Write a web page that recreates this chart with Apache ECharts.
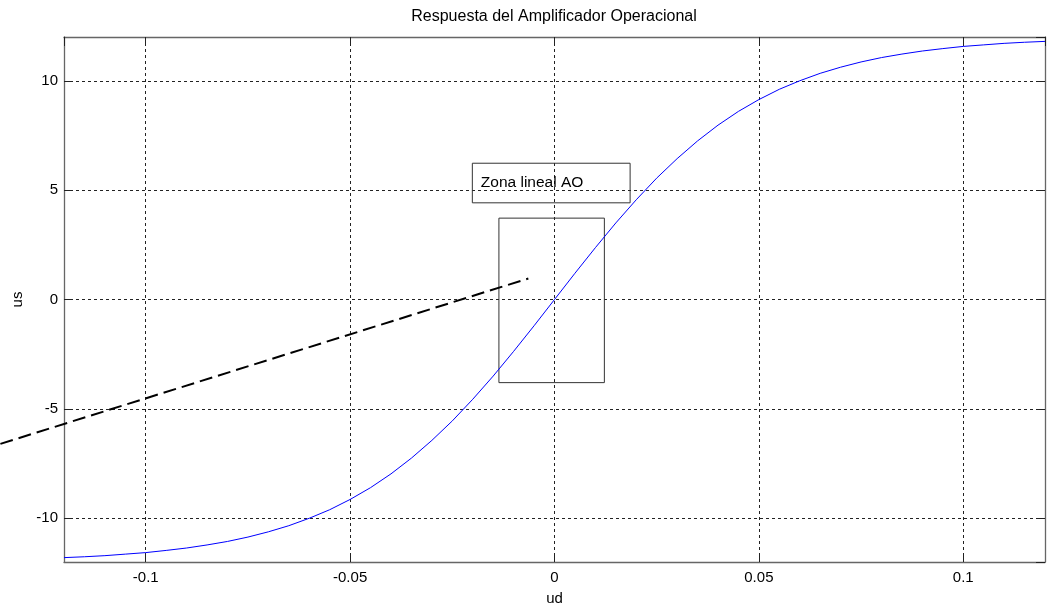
<!DOCTYPE html>
<html>
<head>
<meta charset="utf-8">
<script src="https://cdn.jsdelivr.net/npm/echarts@6/dist/echarts.min.js"></script>
<style>html,body{margin:0;padding:0;background:#fff}#c{width:1047px;height:605px}</style>
</head>
<body>
<div id="c"></div>
<script>
var ud = [-0.12,-0.115,-0.11,-0.105,-0.10,-0.095,-0.09,-0.085,-0.08,-0.075,-0.07,-0.065,-0.06,-0.055,-0.05,-0.045,-0.04,-0.035,-0.03,-0.025,-0.02,-0.015,-0.01,-0.005,0,
          0.005,0.01,0.015,0.02,0.025,0.03,0.035,0.04,0.045,0.05,0.055,0.06,0.065,0.07,0.075,0.08,0.085,0.09,0.095,0.10,0.105,0.11,0.115,0.12];
var us = [-11.80,-11.76,-11.71,-11.64,-11.57,-11.47,-11.36,-11.22,-11.06,-10.86,-10.62,-10.34,-10.00,-9.61,-9.14,-8.60,-7.97,-7.25,-6.44,-5.55,-4.56,-3.50,-2.37,-1.20,0,
          1.20,2.37,3.50,4.56,5.55,6.44,7.25,7.97,8.60,9.14,9.61,10.00,10.34,10.62,10.86,11.06,11.22,11.36,11.47,11.57,11.64,11.71,11.76,11.80];
var arrowX = [-0.14, -0.0064];
var arrowY = [-6.86, 0.96];
var linBox = [[-0.0136, 3.72], [0.0122, -3.80]];
var textBox = [[-0.0201, 6.23], [0.0185, 4.42]];
var textBoxLabel = 'Zona lineal AO';
var titleText = 'Respuesta del Amplificador Operacional';
var xName = 'ud', yName = 'us';
var xMin = -0.12, xMax = 0.12, yMin = -12, yMax = 12;

var FONT = 'Liberation Sans, Arial, sans-serif';
var curve = ud.map(function (x, i) { return [x, us[i]]; });

var gridLine = { show: true, lineStyle: { color: '#222', width: 1, type: [3, 3] } };
var boxLine = { show: true, onZero: false, lineStyle: { color: '#666', width: 1.3 } };
var tick = { show: true, inside: true, length: 9, lineStyle: { color: '#222', width: 1 } };

var chart = echarts.init(document.getElementById('c'), null, { renderer: 'canvas' });
chart.setOption({
  animation: false,
  backgroundColor: '#fff',
  textStyle: { fontFamily: FONT },
  title: {
    text: titleText, left: 554, textAlign: 'center', top: 9, padding: 0,
    textStyle: { fontSize: 16, fontWeight: 'normal', color: '#000', fontFamily: FONT }
  },
  grid: { left: 64, right: 2, top: 37, bottom: 43, containLabel: false, outerBoundsMode: 'none' },
  xAxis: [{
    type: 'value', min: xMin, max: xMax, splitNumber: 5, position: 'bottom',
    name: xName, nameLocation: 'middle', nameGap: 29,
    nameTextStyle: { fontSize: 15, color: '#000', fontFamily: FONT },
    axisLine: boxLine, axisTick: tick, splitLine: gridLine,
    axisLabel: { show: true, showMinLabel: false, showMaxLabel: false, margin: 8, fontSize: 15, color: '#000', fontFamily: FONT }
  }, {
    type: 'value', min: xMin, max: xMax, splitNumber: 5, position: 'top',
    axisLine: boxLine, axisTick: tick, splitLine: { show: false }, axisLabel: { show: false }
  }],
  yAxis: [{
    type: 'value', min: yMin, max: yMax, splitNumber: 5, position: 'left',
    name: yName, nameLocation: 'middle', nameGap: 38,
    nameTextStyle: { fontSize: 15, color: '#000', fontFamily: FONT },
    axisLine: boxLine, axisTick: tick, splitLine: gridLine,
    axisLabel: { show: true, showMinLabel: false, showMaxLabel: false, margin: 6, fontSize: 15, color: '#000', fontFamily: FONT }
  }, {
    type: 'value', min: yMin, max: yMax, splitNumber: 5, position: 'right',
    axisLine: boxLine, axisTick: tick, splitLine: { show: false }, axisLabel: { show: false }
  }],
  series: [{
    type: 'line', data: curve, showSymbol: false, smooth: false,
    lineStyle: { color: '#0000ff', width: 1 }, z: 5,
    markArea: {
      silent: true,
      itemStyle: { color: 'rgba(0,0,0,0)', borderColor: '#333', borderWidth: 1 },
      label: { show: false },
      data: [
        [{ coord: linBox[0] }, { coord: linBox[1] }],
        [{ coord: textBox[0], name: textBoxLabel,
           label: { show: true, position: 'insideLeft', distance: 9, fontSize: 15.5, color: '#000', fontFamily: FONT } },
         { coord: textBox[1] }]
      ]
    }
  }, {
    type: 'custom', clip: false, z: 6, silent: true,
    data: [[arrowX[0], arrowY[0], arrowX[1], arrowY[1]]],
    renderItem: function (params, api) {
      var p1 = api.coord([api.value(0), api.value(1)]);
      var p2 = api.coord([api.value(2), api.value(3)]);
      return {
        type: 'line',
        shape: { x1: p1[0], y1: p1[1], x2: p2[0], y2: p2[1] },
        style: { stroke: '#000', lineWidth: 2, lineDash: [13, 6], fill: null }
      };
    }
  }]
});
</script>
</body>
</html>
